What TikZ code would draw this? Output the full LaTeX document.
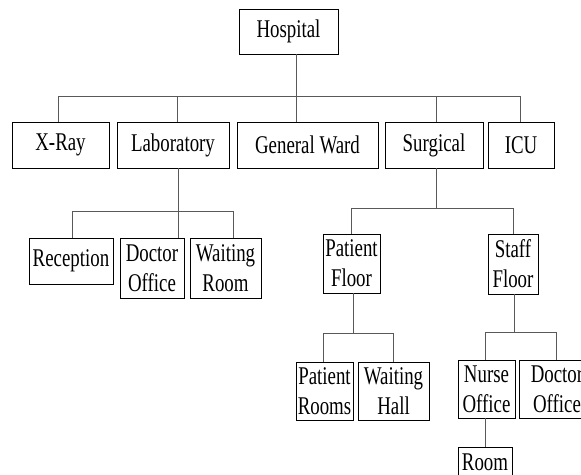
\documentclass[tikz,border=0pt]{standalone}
\usepackage{fontspec}
\setmainfont[FakeStretch=0.74]{Liberation Serif}
\usepackage{tikz}
\usetikzlibrary{positioning, calc}
\tikzstyle{unit} = [
  rectangle, draw=black, line width=0.8pt, inner sep=0pt,
  align=center, font=\fontsize{25.5}{30}\selectfont
]
\tikzstyle{link} = [
  line width=1pt, color=black!65
]

\begin{document}
\begin{tikzpicture}[x=1pt, y=-1pt]

  \clip (0,0) rectangle (581,474);

  % ── Root ──────────────────────────────────────────────
  \node[unit, minimum width=99pt, minimum height=45pt] (hosp) at (288.5,31.5) {Hospital};

  % ── Departments ───────────────────────────────────────
  \node[unit, minimum width=97pt,  minimum height=46pt] (xray) at (60.5,145)  {X-Ray};
  \node[unit, minimum width=112pt, minimum height=46pt] (lab)  at (173,145)   {Laboratory};
  \node[unit, minimum width=141pt, minimum height=46pt] (gw)   at (307.5,145) {General Ward};
  \node[unit, minimum width=98pt,  minimum height=46pt] (surg) at (434,145)   {Surgical};
  \node[unit, minimum width=66pt,  minimum height=46pt] (icu)  at (521,145)   {ICU};

  % ── Laboratory ────────────────────────────────────────
  \node[unit, minimum width=84pt, minimum height=46pt] (rec)   at (71,261)    {Reception};
  \node[unit, minimum width=64pt, minimum height=60pt] (doca)  at (152,268)   {Doctor\\Office};
  \node[unit, minimum width=71pt, minimum height=60pt] (waita) at (225.5,268) {Waiting\\Room};

  % ── Surgical ──────────────────────────────────────────
  \node[unit, minimum width=57pt, minimum height=59pt] (pfloor) at (351.5,263.5) {Patient\\Floor};
  \node[unit, minimum width=50pt, minimum height=60pt] (sfloor) at (513,264)     {Staff\\Floor};

  % ── Patient Floor ─────────────────────────────────────
  \node[unit, minimum width=57pt, minimum height=58pt] (prooms) at (324.5,391) {Patient\\Rooms};
  \node[unit, minimum width=71pt, minimum height=58pt] (whall)  at (393.5,391) {Waiting\\Hall};

  % ── Staff Floor ───────────────────────────────────────
  \node[unit, minimum width=57pt, minimum height=58pt] (nurse) at (486.5,389) {Nurse\\Office};
  \node[unit, minimum width=76pt, minimum height=58pt] (docb)  at (557,389)   {Doctor\\Office};
  \node[unit, minimum width=54pt, minimum height=30pt] (room)  at (485,462)   {Room};

  % ── Bus levels ────────────────────────────────────────
  \coordinate (bus1) at (0,96);
  \coordinate (bus2) at (0,211);
  \coordinate (bus3) at (0,208);
  \coordinate (bus4) at (0,333);
  \coordinate (bus5) at (0,332);

  % ── Links ─────────────────────────────────────────────
  \draw[link] ([xshift=7.5pt]hosp.south) -- ([xshift=-11.5pt]gw.north);
  \draw[link] ([xshift=-2.5pt]xray.north) |- ([xshift=-1pt]icu.north |- bus1) -- ([xshift=-1pt]icu.north);
  \draw[link] ([xshift=4pt]lab.north) -- ([xshift=4pt]lab.north |- bus1);
  \draw[link] ([xshift=2pt]surg.north) -- ([xshift=2pt]surg.north |- bus1);

  \draw[link] ([xshift=5pt]lab.south) -- ([xshift=26pt]doca.north);
  \draw[link] ([xshift=1pt]rec.north) |- ([xshift=7.5pt]waita.north |- bus2) -- ([xshift=7.5pt]waita.north);

  \draw[link] ([xshift=2pt]surg.south) -- ([xshift=2pt]surg.south |- bus3);
  \draw[link] (pfloor.north) |- (sfloor.north |- bus3) -- (sfloor.north);

  \draw[link] ([xshift=1.5pt]pfloor.south) -- ([xshift=1.5pt]pfloor.south |- bus4);
  \draw[link] ([xshift=-1.5pt]prooms.north) |- (whall.north |- bus4) -- (whall.north);

  \draw[link] ([xshift=1pt]sfloor.south) -- ([xshift=1pt]sfloor.south |- bus5);
  \draw[link] ([xshift=-1.5pt]nurse.north) |- ([xshift=-1pt]docb.north |- bus5) -- ([xshift=-1pt]docb.north);
  \draw[link] ([xshift=-1.5pt]nurse.south) -- (room.north);

\end{tikzpicture}
\end{document}
